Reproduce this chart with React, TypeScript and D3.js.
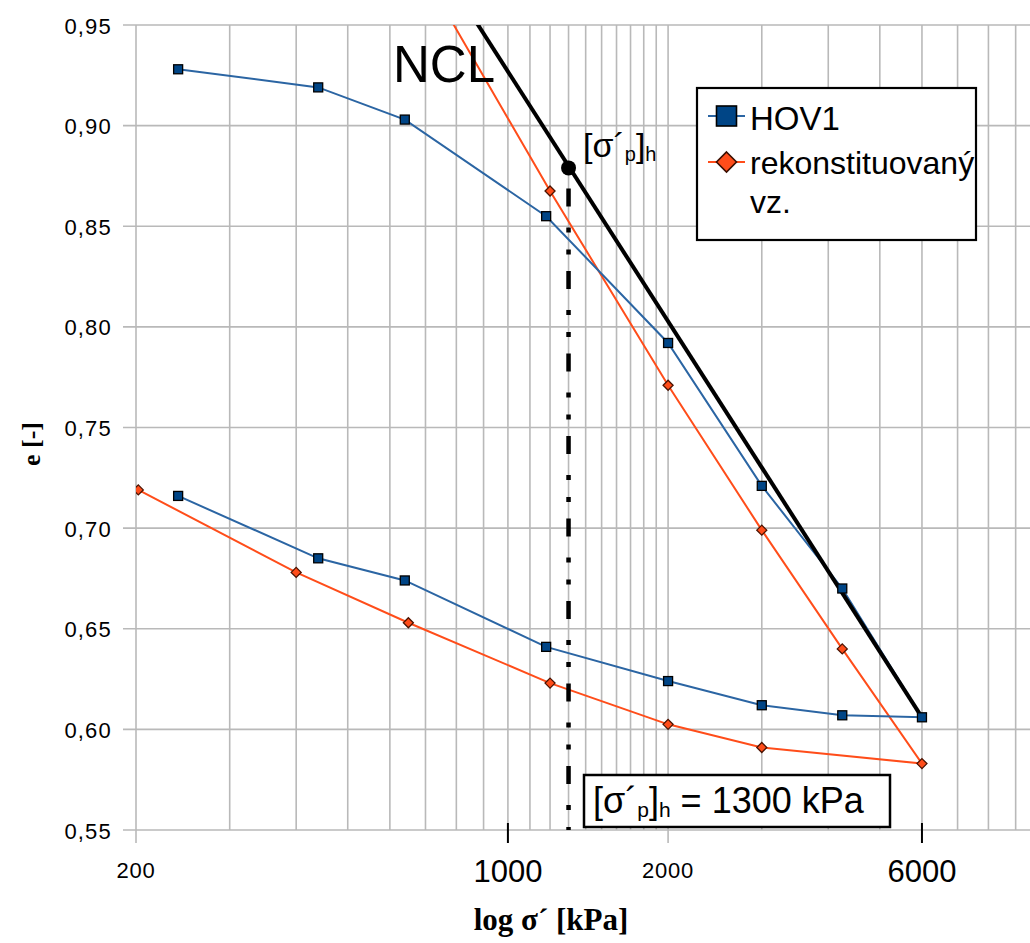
import React from 'react';
import * as d3 from 'd3';

// HOV1 (loading then unloading)
const hovSigma = [240, 440, 640, 1180, 2000, 3000, 4250, 6000, 4250, 3000, 2000, 1180, 640, 440, 240];
const hovE = [0.928, 0.919, 0.903, 0.855, 0.792, 0.721, 0.670, 0.606, 0.607, 0.612, 0.624, 0.641, 0.674, 0.685, 0.716];
// rekonstituovaný vz. (loading then unloading)
const rekSigma = [650, 1200, 2000, 3000, 4250, 6000, 3000, 2000, 1200, 650, 400, 202];
const rekE = [0.989, 0.8675, 0.771, 0.699, 0.640, 0.583, 0.591, 0.6025, 0.623, 0.653, 0.678, 0.719];
// NCL line
const nclSigma = [850, 6000];
const nclE = [0.956, 0.606];
// preconsolidation
const pcSigma = 1300;
const pcE = 0.879;

const yTicks = [0.55, 0.60, 0.65, 0.70, 0.75, 0.80, 0.85, 0.90, 0.95];
const yTickLabels = ['0,55', '0,60', '0,65', '0,70', '0,75', '0,80', '0,85', '0,90', '0,95'];
const xGrid = [200, 300, 400, 500, 600, 700, 800, 900, 1000, 1100, 1200, 1300, 1400, 1500, 1600, 1700, 1800, 1900, 2000, 3000, 4000, 5000, 6000, 7000, 8000, 9000];
const xMajor = [200, 2000];
const xMajorLabels = ['200', '2000'];
const xExtraTicks = [1000, 6000];
const xExtraLabels = ['1000', '6000'];

const W = 1030, H = 943;
const BLUE_LINE = '#2b65a3';
const BLUE_FILL = '#004586';
const ORANGE = '#ff4d1a';
const GRID = '#b9b9b9';

export default function App() {
  const x = d3.scaleLog().domain([200, 10000]).range([136, 1040]);
  const y = d3.scaleLinear().domain([0.55, 0.95]).range([830, 25]);
  const [x0] = x.range();
  const yTop = y(0.95), yBot = y(0.55);

  const line = d3.line<[number, number]>().x(d => x(d[0])).y(d => y(d[1]));
  const hovPts: [number, number][] = hovSigma.map((s, i) => [s, hovE[i]]);
  const rekPts: [number, number][] = rekSigma.map((s, i) => [s, rekE[i]]);
  const nclPts: [number, number][] = nclSigma.map((s, i) => [s, nclE[i]]);

  const diamond = (cx: number, cy: number, r: number) =>
    `M${cx},${cy - r}L${cx + r},${cy}L${cx},${cy + r}L${cx - r},${cy}Z`;

  const pcx = x(pcSigma), pcy = y(pcE);
  const dashStart = pcy + 18;

  return (
    <svg width={W} height={H} style={{ position: 'absolute', left: 0, top: 0, background: '#fff' }}
      xmlns="http://www.w3.org/2000/svg">
      <defs>
        <clipPath id="plot">
          <rect x={x0} y={yTop} width={W - x0} height={yBot - yTop} />
        </clipPath>
      </defs>
      <rect x={0} y={0} width={W} height={H} fill="#fff" />
      {/* horizontal grid */}
      {yTicks.map(t => (
        <line key={'h' + t} x1={123} x2={W} y1={y(t)} y2={y(t)} stroke={GRID} strokeWidth={1.6} />
      ))}
      {/* vertical grid */}
      {xGrid.map(t => (
        <line key={'v' + t} x1={x(t)} x2={x(t)} y1={yTop} y2={xMajor.includes(t) ? yBot + 13 : yBot}
          stroke={GRID} strokeWidth={1.6} />
      ))}
      {xExtraTicks.map(t => (
        <line key={'k' + t} x1={x(t)} x2={x(t)} y1={yBot - 7} y2={yBot + 13} stroke="#000" strokeWidth={2} />
      ))}
      {/* y tick labels */}
      {yTicks.map((t, i) => (
        <text key={'yl' + t} x={112} y={y(t) + 8.5} textAnchor="end" fontFamily="Liberation Sans, Arial, sans-serif"
          fontSize={22} letterSpacing={1.2} fill="#000">{yTickLabels[i]}</text>
      ))}
      {/* x tick labels */}
      {xMajor.map((t, i) => (
        <text key={'xl' + t} x={x(t)} y={878} textAnchor="middle" fontFamily="Liberation Sans, Arial, sans-serif"
          fontSize={22} letterSpacing={0.8} fill="#000">{xMajorLabels[i]}</text>
      ))}
      {xExtraTicks.map((t, i) => (
        <text key={'xe' + t} x={x(t)} y={882} textAnchor="middle" fontFamily="Liberation Sans, Arial, sans-serif"
          fontSize={31} fill="#000">{xExtraLabels[i]}</text>
      ))}
      {/* axis titles */}
      <text x={551} y={930} textAnchor="middle" fontFamily="Liberation Serif, Times New Roman, serif"
        fontWeight="bold" fontSize={31} fill="#000">log σ´ [kPa]</text>
      <text transform="translate(40,444) rotate(-90)" textAnchor="middle"
        fontFamily="Liberation Serif, Times New Roman, serif" fontWeight="bold" fontSize={26} fill="#000">e [-]</text>

      <g clipPath="url(#plot)">
        <path d={line(rekPts) || ''} fill="none" stroke={ORANGE} strokeWidth={2} />
        <path d={line(hovPts) || ''} fill="none" stroke={BLUE_LINE} strokeWidth={2} />
        <path d={line(nclPts) || ''} fill="none" stroke="#000" strokeWidth={4} />
        {rekPts.map((p, i) => (
          <path key={'rm' + i} d={diamond(x(p[0]), y(p[1]), 5)} fill={ORANGE} stroke="#4a1200" strokeWidth={1.3} />
        ))}
        {hovPts.map((p, i) => (
          <rect key={'hm' + i} x={x(p[0]) - 4.5} y={y(p[1]) - 4.5} width={9} height={9}
            fill={BLUE_FILL} stroke="#000" strokeWidth={1.3} />
        ))}
      </g>

      {/* preconsolidation dash-dot line */}
      <line x1={pcx} x2={pcx} y1={dashStart} y2={yBot} stroke="#000" strokeWidth={4.5}
        strokeDasharray="18 21 5 17 5 16.5" strokeDashoffset={80} />
      <circle cx={pcx} cy={pcy} r={7.5} fill="#000" />

      {/* NCL label */}
      <text x={393} y={82} fontFamily="Liberation Sans, Arial, sans-serif" fontSize={51} fill="#000">NCL</text>

      {/* sigma_p label */}
      <text x={583} y={157} fontFamily="Liberation Sans, Arial, sans-serif" fontSize={34} fill="#000">
        [σ´<tspan fontSize={20} dy={4}>p</tspan><tspan dy={-4}>]</tspan><tspan fontSize={20} dy={4}>h</tspan>
      </text>

      {/* legend */}
      <rect x={697} y={88} width={279} height={152} fill="#fff" stroke="#000" strokeWidth={2.2} />
      <line x1={708} x2={745} y1={116} y2={116} stroke={BLUE_LINE} strokeWidth={2} />
      <rect x={716.5} y={106} width={20} height={20} fill={BLUE_FILL} stroke="#000" strokeWidth={1.6} />
      <text x={750} y={130} fontFamily="Liberation Sans, Arial, sans-serif" fontSize={33} fill="#000">HOV1</text>
      <line x1={708} x2={745} y1={162} y2={162} stroke={ORANGE} strokeWidth={2} />
      <path d={diamond(726.5, 162, 10)} fill={ORANGE} stroke="#3a0e00" strokeWidth={1.6} />
      <text x={750} y={174} fontFamily="Liberation Sans, Arial, sans-serif" fontSize={32} fill="#000">rekonstituovaný</text>
      <text x={750} y={213} fontFamily="Liberation Sans, Arial, sans-serif" fontSize={32} fill="#000">vz.</text>

      {/* value box */}
      <rect x={584} y={775} width={306} height={52} fill="#fff" stroke="#000" strokeWidth={2.5} />
      <text x={593} y={813} fontFamily="Liberation Sans, Arial, sans-serif" fontSize={36} fill="#000">
        [σ´<tspan fontSize={21} dy={4}>p</tspan><tspan dy={-4}>]</tspan><tspan fontSize={21} dy={4}>h</tspan><tspan dy={-4}> = 1300 kPa</tspan>
      </text>
    </svg>
  );
}
